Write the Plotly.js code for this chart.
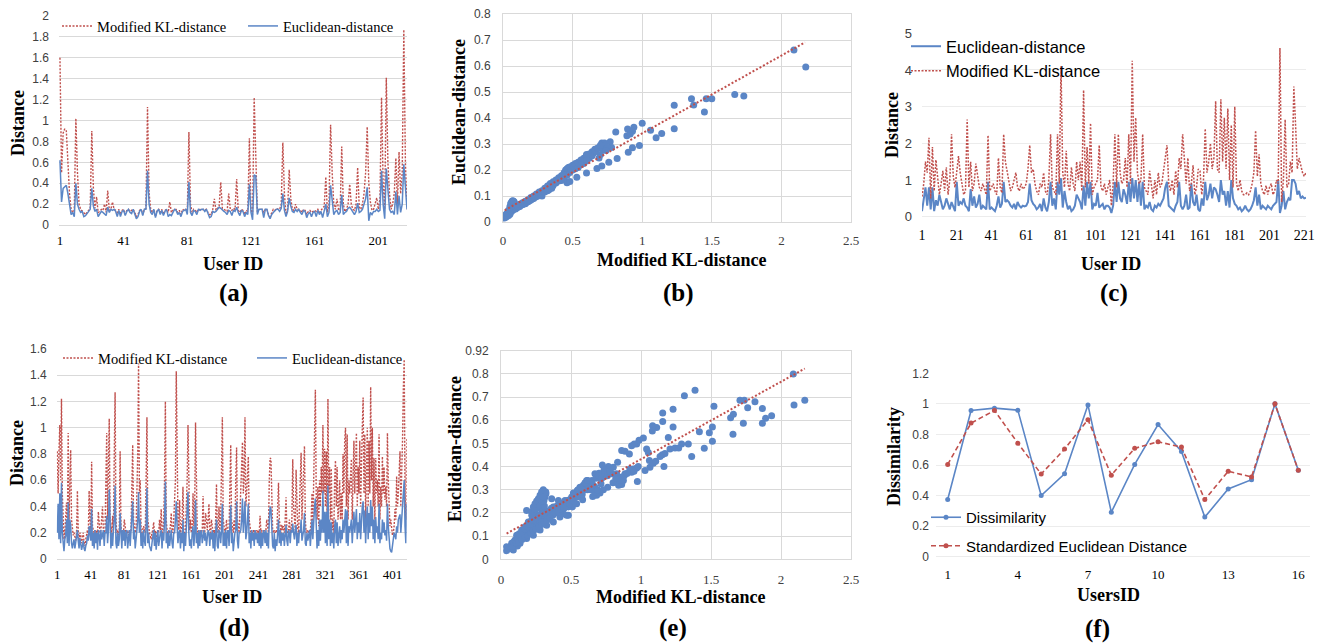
<!DOCTYPE html>
<html><head><meta charset="utf-8">
<script src="https://cdn.plot.ly/plotly-3.0.1.min.js"></script>
<style>html,body{margin:0;padding:0;background:#fff}#chart{width:1321px;height:643px}</style>
</head><body><div id="chart"></div>
<script>
// ---------- Panel (a) ----------
const A_KL = [1.6,0.5,0.88,0.92,0.9,0.55,0.3,0.15,0.12,0.14,
1.02,0.5,0.2,0.15,0.13,0.12,0.1,0.12,0.14,0.16,
0.9,0.35,0.16,0.27,0.12,0.13,0.15,0.14,0.2,0.12,
0.33,0.14,0.15,0.22,0.15,0.14,0.12,0.15,0.1,0.14,
0.15,0.1,0.14,0.15,0.13,0.14,0.15,0.12,0.08,0.1,
0.14,0.15,0.1,0.15,0.16,1.13,0.3,0.15,0.12,0.15,
0.08,0.14,0.15,0.12,0.15,0.1,0.14,0.15,0.12,0.22,
0.12,0.14,0.15,0.15,0.12,0.14,0.1,0.15,0.14,0.15,
0.13,0.89,0.2,0.12,0.15,0.14,0.12,0.15,0.15,0.14,
0.15,0.14,0.15,0.12,0.1,0.1,0.15,0.25,0.14,0.16,
0.18,0.41,0.16,0.15,0.14,0.13,0.3,0.15,0.14,0.16,
0.15,0.44,0.14,0.12,0.15,0.14,0.1,0.14,0.13,0.83,
0.15,0.1,1.22,0.6,0.12,0.15,0.15,0.15,0.12,0.15,
0.15,0.1,0.08,0.12,0.15,0.14,0.16,0.15,0.15,0.2,
0.79,0.3,0.1,0.15,0.53,0.25,0.15,0.14,0.2,0.15,
0.15,0.14,0.12,0.15,0.14,0.1,0.13,0.14,0.12,0.13,
0.14,0.13,0.15,0.12,0.14,0.15,0.18,0.46,0.12,0.2,
0.96,0.5,0.2,0.15,0.25,0.15,0.14,0.75,0.2,0.13,
0.15,0.2,0.39,0.2,0.15,0.14,0.2,0.55,0.17,0.15,
0.2,0.3,0.5,0.94,0.4,0.22,0.14,0.15,0.2,0.26,
0.15,0.25,1.22,0.4,0.15,1.41,0.6,0.3,0.15,0.2,
0.3,0.64,0.2,0.7,0.3,0.5,1.87,0.6,0.15];
const A_EU = [0.62,0.22,0.35,0.37,0.38,0.3,0.2,0.1,0.12,0.08,
0.40,0.2,0.15,0.12,0.13,0.08,0.09,0.11,0.13,0.15,
0.35,0.18,0.13,0.15,0.08,0.11,0.13,0.12,0.1,0.09,
0.17,0.12,0.15,0.14,0.15,0.13,0.08,0.14,0.08,0.13,
0.14,0.09,0.13,0.15,0.12,0.11,0.15,0.1,0.06,0.08,
0.13,0.15,0.09,0.15,0.15,0.52,0.2,0.12,0.1,0.15,
0.07,0.13,0.15,0.1,0.14,0.09,0.13,0.15,0.08,0.1,
0.09,0.12,0.15,0.14,0.1,0.12,0.08,0.13,0.14,0.15,
0.1,0.41,0.12,0.09,0.14,0.13,0.1,0.15,0.14,0.15,
0.15,0.13,0.15,0.11,0.07,0.08,0.13,0.12,0.13,0.15,
0.17,0.16,0.14,0.13,0.12,0.1,0.14,0.13,0.09,0.14,
0.13,0.17,0.12,0.09,0.14,0.13,0.08,0.12,0.1,0.39,
0.12,0.05,0.48,0.47,0.1,0.15,0.15,0.15,0.07,0.15,
0.15,0.09,0.06,0.1,0.12,0.14,0.15,0.15,0.13,0.16,
0.3,0.14,0.08,0.13,0.26,0.18,0.13,0.12,0.15,0.13,
0.15,0.12,0.1,0.14,0.13,0.07,0.11,0.12,0.08,0.12,
0.13,0.08,0.14,0.1,0.13,0.07,0.14,0.2,0.08,0.12,
0.38,0.22,0.1,0.13,0.14,0.1,0.12,0.29,0.1,0.12,
0.13,0.16,0.17,0.15,0.12,0.1,0.13,0.21,0.12,0.13,
0.15,0.2,0.25,0.36,0.04,0.12,0.1,0.13,0.13,0.15,
0.13,0.14,0.52,0.2,0.06,0.54,0.3,0.15,0.12,0.13,
0.1,0.32,0.1,0.28,0.12,0.2,0.58,0.3,0.15];

// ---------- Panel (b) ----------
const B_X = [0.01,0.015,0.02,0.02,0.03,0.03,0.04,0.04,0.05,0.05,0.055,0.06,0.06,0.065,0.07,0.07,0.075,0.08,0.08,0.09,0.09,0.1,0.1,0.11,0.12,0.12,0.13,0.14,0.14,0.15,0.16,0.16,0.17,0.18,0.18,0.19,0.2,0.2,0.21,0.22,0.22,0.23,0.24,0.24,0.25,0.26,0.26,0.27,0.28,0.28,0.29,0.3,0.3,0.31,0.32,0.32,0.33,0.33,0.34,0.34,0.35,0.36,0.36,0.37,0.38,0.38,0.39,0.4,0.4,0.41,0.42,0.42,0.43,0.44,0.44,0.45,0.45,0.46,0.46,0.47,0.47,0.48,0.48,0.49,0.5,0.5,0.51,0.52,0.52,0.53,0.54,0.54,0.55,0.56,0.56,0.57,0.58,0.58,0.59,0.6,0.6,0.61,0.62,0.62,0.63,0.64,0.64,0.65,0.66,0.66,0.67,0.68,0.7,0.72,0.6,
0.81,0.895,1.0,0.98,0.93,0.9,1.06,1.1,1.14,1.23,1.23,1.354,1.37,1.447,1.46,1.5,1.665,1.73,2.09,2.175,0.82,0.76,0.71,0.675,0.6,0.53,0.46,0.48,0.71,0.73,0.77,0.78,0.75,0.69,0.6,0.94,0.93,0.89,0.914,0.7,0.74,0.33,0.35,0.42,0.44];
const B_Y = [0.015,0.02,0.018,0.028,0.022,0.035,0.025,0.045,0.03,0.06,0.07,0.04,0.075,0.08,0.045,0.082,0.08,0.05,0.078,0.05,0.06,0.055,0.065,0.058,0.06,0.068,0.065,0.066,0.074,0.07,0.07,0.08,0.076,0.078,0.086,0.082,0.085,0.094,0.088,0.09,0.1,0.095,0.098,0.108,0.1,0.105,0.115,0.11,0.1,0.12,0.118,0.115,0.13,0.125,0.12,0.138,0.125,0.14,0.13,0.148,0.14,0.14,0.155,0.15,0.15,0.162,0.16,0.158,0.17,0.168,0.165,0.178,0.18,0.17,0.19,0.19,0.2,0.18,0.205,0.2,0.21,0.19,0.212,0.2,0.2,0.218,0.21,0.205,0.225,0.215,0.21,0.23,0.225,0.22,0.238,0.23,0.225,0.245,0.24,0.235,0.255,0.25,0.245,0.262,0.255,0.255,0.27,0.265,0.27,0.28,0.275,0.285,0.26,0.28,0.24,
0.346,0.358,0.38,0.294,0.286,0.268,0.353,0.324,0.34,0.449,0.359,0.474,0.45,0.423,0.474,0.474,0.49,0.485,0.662,0.596,0.244,0.23,0.215,0.206,0.188,0.172,0.151,0.156,0.304,0.304,0.309,0.287,0.287,0.246,0.26,0.364,0.349,0.332,0.338,0.295,0.275,0.125,0.13,0.16,0.18];
const B_TREND_X = [0.012, 2.17];
const B_TREND_Y = [0.045, 0.691];

// ---------- Panel (c) ----------
const C_EU = [0.15,0.5,0.8,0.3,0.8,0.2,0.8,0.15,0.45,0.3,
0.6,0.4,0.2,0.3,0.5,0.35,0.2,0.4,0.25,0.15,
0.95,0.3,0.4,0.35,0.5,0.3,0.25,0.15,0.75,0.3,
0.55,0.25,0.35,0.6,0.2,0.3,0.25,0.2,0.95,0.2,
0.25,0.2,0.15,0.3,0.55,0.25,0.35,0.95,0.4,0.45,
0.4,0.3,0.25,0.35,0.2,0.4,0.3,0.25,0.3,0.28,
0.3,0.4,0.9,0.45,0.35,0.3,0.2,0.25,0.35,0.15,
0.5,0.25,0.15,0.4,0.95,0.3,0.5,0.2,0.95,0.6,
1.05,0.25,0.7,0.4,0.2,0.3,0.15,0.2,0.3,0.6,
0.5,0.4,0.2,0.85,0.3,0.95,0.5,0.95,0.2,0.35,
0.3,0.65,0.25,0.3,0.35,0.2,0.3,0.3,0.25,0.1,
0.3,0.95,0.4,0.95,0.5,0.4,0.75,0.6,0.35,0.95,
0.4,1.05,0.5,1.0,0.4,0.95,0.3,0.95,0.2,0.3,
0.25,0.4,0.2,0.15,0.3,0.25,0.35,0.3,0.4,0.5,
0.8,0.95,0.3,0.25,0.2,0.15,0.3,0.4,0.95,0.3,
0.2,0.3,0.6,0.2,0.25,0.9,0.4,0.3,0.6,0.2,
0.15,0.5,0.3,0.95,0.45,0.6,0.9,0.5,0.8,0.75,
0.6,0.4,1.0,0.6,0.7,0.3,0.7,0.25,1.0,0.5,
0.35,0.3,0.2,0.25,0.15,0.2,0.3,0.2,0.15,0.2,
0.3,0.45,0.8,0.3,0.6,0.2,0.3,0.25,0.2,0.3,
0.25,0.2,0.3,0.35,0.4,1.0,0.1,0.3,0.7,0.2,
0.4,0.5,0.45,1.0,1.0,0.9,0.6,0.7,0.5,0.55,
0.5,0.52];
const C_KL = [0.55,0.9,1.5,1.2,2.15,0.5,1.9,0.7,1.55,1.0,
0.6,0.9,1.25,0.7,1.35,0.6,1.0,2.25,1.1,0.8,
1.3,1.65,1.2,0.9,0.6,0.7,2.65,0.8,1.5,0.7,
0.9,1.45,1.1,0.8,0.7,0.9,0.75,0.6,2.22,0.7,
0.8,0.9,0.7,0.6,1.6,0.8,0.65,2.25,1.5,1.2,
0.9,0.7,0.8,1.0,1.2,0.8,0.7,0.9,0.75,0.8,
0.9,1.3,1.95,1.2,1.3,0.9,0.7,0.6,0.9,0.8,
1.2,0.7,0.6,1.0,2.25,0.8,0.7,0.6,2.25,0.9,
4.1,1.2,0.8,1.8,0.9,0.7,1.35,0.9,0.7,1.5,
1.0,1.5,0.7,3.45,0.8,1.9,0.9,2.55,0.6,0.8,
0.9,1.0,1.95,0.8,0.7,0.9,0.6,0.8,1.0,0.3,
0.9,2.25,0.8,2.25,1.2,0.9,1.0,1.6,0.8,2.25,
0.9,4.25,1.5,2.7,1.2,0.9,1.0,2.25,0.8,0.7,
0.6,1.25,0.8,0.5,1.0,0.6,1.2,0.8,0.9,1.3,
1.6,1.95,0.9,0.7,1.0,0.6,1.25,0.8,1.6,1.3,
2.25,1.6,0.9,1.6,0.7,0.9,1.4,0.6,0.8,1.3,
1.25,0.6,1.0,2.4,1.2,1.5,2.0,1.3,1.6,3.15,
1.3,1.2,3.2,1.5,2.7,1.3,2.95,1.0,2.5,0.8,
3.0,0.9,0.7,1.0,0.7,0.6,0.6,0.65,0.6,0.7,
0.9,1.2,2.35,1.1,1.7,0.9,0.7,0.6,0.85,0.6,
0.8,0.9,0.6,0.7,1.0,0.9,4.6,0.4,1.0,2.65,
0.8,0.9,1.5,1.2,3.55,2.5,1.3,1.6,1.4,1.2,
1.1,1.2];

// ---------- Panel (d) ----------
const D_KL = [0.82,0.5,0.82,1.02,0.6,1.22,0.5,0.2,0.15,0.2,0.3,0.43,0.2,0.96,0.3,0.5,0.83,0.3,0.2,0.18,
0.2,0.15,0.14,0.2,0.52,0.22,0.14,0.2,0.18,0.12,0.15,0.2,0.12,0.1,0.15,0.2,0.22,0.18,0.52,0.3,
0.2,0.74,0.25,0.22,0.2,0.22,0.2,0.22,0.2,0.36,0.22,0.2,0.22,0.3,0.4,0.22,0.2,0.22,0.5,0.96,
0.3,0.6,1.07,0.3,0.22,0.2,0.33,0.22,0.8,1.27,0.3,0.2,0.22,0.18,0.22,0.82,0.25,0.2,0.22,0.2,
0.3,0.22,0.2,0.22,0.2,0.18,0.22,0.2,0.22,0.6,0.87,0.3,0.22,0.2,0.22,0.5,0.8,1.49,0.5,0.6,
0.22,0.2,0.22,0.25,0.22,0.2,0.6,1.08,0.3,0.22,0.2,0.18,0.15,0.2,0.22,0.28,0.2,0.22,0.15,0.2,
0.22,0.2,0.3,0.22,0.38,0.22,0.2,0.3,0.6,1.2,0.3,0.22,0.2,0.22,0.2,0.25,0.35,0.22,0.2,0.3,
0.45,0.6,1.43,0.5,0.3,0.22,0.45,0.2,0.22,0.3,0.55,0.22,0.2,0.22,0.4,0.6,1.02,0.4,0.22,0.3,
0.2,0.22,0.5,0.25,0.4,1.04,0.3,0.22,0.2,0.22,0.2,0.22,0.2,0.22,0.48,0.22,0.2,0.35,0.3,0.22,
0.3,0.42,0.22,0.2,0.3,0.22,0.2,0.22,0.18,0.3,0.57,0.22,0.2,0.4,0.22,0.3,0.6,1.08,0.3,0.22,
0.2,0.22,0.3,0.22,0.2,0.22,0.5,0.87,0.3,0.22,0.2,0.3,0.22,0.6,0.85,0.3,0.22,0.2,0.35,0.6,
0.75,0.89,0.5,0.6,1.08,0.4,0.5,0.6,0.78,0.3,0.22,0.2,0.22,0.2,0.22,0.2,0.22,0.2,0.22,0.2,
0.22,0.2,0.33,0.2,0.22,0.15,0.2,0.22,0.2,0.22,0.3,0.22,0.2,0.6,0.77,0.76,0.3,0.22,0.2,0.22,
0.2,0.22,0.2,0.35,0.58,0.3,0.22,0.2,0.26,0.22,0.25,0.2,0.3,0.47,0.22,0.2,0.22,0.3,0.2,0.22,
0.3,0.76,0.4,0.3,0.22,0.68,0.3,0.22,0.2,0.4,0.6,0.81,0.3,0.5,0.6,0.86,0.3,0.2,0.22,0.2,
0.22,0.2,0.22,0.3,0.5,0.22,0.6,0.9,1.29,0.5,0.3,0.55,0.25,0.6,0.4,0.7,0.5,1.02,0.5,0.84,
0.4,0.82,0.3,1.22,0.5,0.7,0.3,0.69,0.22,0.3,0.2,0.6,0.75,0.4,0.7,0.3,0.4,0.6,0.3,0.5,
0.3,0.8,0.5,0.9,1.0,0.4,0.95,0.3,0.6,0.5,0.7,0.76,0.3,0.6,0.9,0.5,0.8,0.96,0.4,0.7,
0.5,0.9,0.4,0.8,1.0,1.23,0.5,0.95,0.3,0.7,1.0,0.4,0.9,0.5,1.31,0.6,1.0,0.4,0.77,0.3,
0.77,0.5,0.6,0.4,0.95,0.3,0.55,0.4,0.78,0.5,0.7,0.45,0.55,0.4,0.96,0.6,0.3,0.25,0.3,0.2,
0.18,0.2,0.25,0.38,0.3,0.63,0.4,0.5,0.7,0.82,0.4,0.6,0.9,1.3,1.52,0.5,0.3,0.92];
const D_EU = [0.2,0.42,0.15,0.5,0.12,0.58,0.2,0.08,0.06,0.15,0.18,0.3,0.12,0.43,0.1,0.3,0.25,0.12,0.08,0.12,
0.15,0.08,0.12,0.18,0.22,0.14,0.08,0.16,0.12,0.07,0.1,0.14,0.08,0.06,0.1,0.12,0.18,0.14,0.25,0.2,
0.14,0.38,0.1,0.2,0.08,0.22,0.12,0.2,0.07,0.22,0.18,0.1,0.22,0.15,0.2,0.22,0.1,0.2,0.2,0.33,
0.12,0.22,0.53,0.15,0.08,0.2,0.1,0.22,0.3,0.56,0.12,0.08,0.2,0.1,0.15,0.35,0.12,0.08,0.22,0.14,
0.22,0.1,0.2,0.22,0.08,0.14,0.22,0.1,0.2,0.28,0.44,0.15,0.22,0.08,0.2,0.22,0.3,0.51,0.2,0.3,
0.1,0.2,0.08,0.22,0.14,0.1,0.25,0.54,0.12,0.2,0.1,0.08,0.06,0.12,0.2,0.22,0.1,0.2,0.07,0.15,
0.22,0.1,0.18,0.2,0.22,0.08,0.2,0.14,0.3,0.59,0.12,0.2,0.08,0.22,0.1,0.2,0.22,0.12,0.08,0.2,
0.2,0.3,0.44,0.25,0.12,0.2,0.22,0.08,0.2,0.12,0.3,0.06,0.2,0.1,0.22,0.3,0.51,0.2,0.1,0.15,
0.08,0.2,0.25,0.1,0.2,0.45,0.12,0.2,0.08,0.22,0.1,0.2,0.22,0.12,0.2,0.22,0.14,0.2,0.1,0.2,
0.22,0.2,0.1,0.2,0.15,0.22,0.08,0.2,0.06,0.2,0.3,0.1,0.08,0.22,0.2,0.12,0.22,0.42,0.1,0.2,
0.1,0.22,0.08,0.2,0.22,0.1,0.22,0.41,0.12,0.2,0.06,0.14,0.2,0.22,0.44,0.14,0.08,0.2,0.2,0.22,
0.3,0.46,0.2,0.3,0.44,0.15,0.2,0.3,0.42,0.12,0.2,0.08,0.22,0.14,0.2,0.1,0.22,0.15,0.2,0.12,
0.2,0.1,0.22,0.08,0.2,0.1,0.22,0.2,0.12,0.22,0.1,0.2,0.08,0.3,0.4,0.38,0.15,0.1,0.08,0.2,
0.06,0.15,0.1,0.2,0.3,0.12,0.22,0.1,0.2,0.14,0.2,0.1,0.2,0.26,0.14,0.1,0.22,0.2,0.12,0.22,
0.2,0.27,0.2,0.15,0.22,0.26,0.1,0.2,0.12,0.22,0.2,0.3,0.14,0.2,0.22,0.35,0.12,0.1,0.2,0.14,
0.2,0.22,0.1,0.2,0.3,0.15,0.3,0.4,0.46,0.2,0.08,0.22,0.1,0.3,0.14,0.3,0.2,0.52,0.2,0.36,
0.12,0.36,0.1,0.56,0.15,0.3,0.1,0.28,0.12,0.2,0.08,0.25,0.3,0.12,0.28,0.1,0.2,0.25,0.12,0.22,
0.15,0.3,0.2,0.35,0.38,0.12,0.37,0.1,0.25,0.2,0.28,0.3,0.12,0.25,0.36,0.2,0.3,0.38,0.15,0.28,
0.2,0.35,0.15,0.3,0.4,0.44,0.2,0.37,0.12,0.3,0.4,0.15,0.35,0.2,0.45,0.25,0.4,0.15,0.3,0.12,
0.32,0.2,0.25,0.15,0.42,0.12,0.2,0.15,0.3,0.2,0.28,0.18,0.22,0.14,0.42,0.25,0.12,0.08,0.06,0.05,
0.1,0.15,0.2,0.18,0.15,0.25,0.2,0.3,0.32,0.34,0.2,0.3,0.38,0.45,0.6,0.25,0.12,0.42];

// ---------- Panel (e) ----------
const E_X = [2.088,2.17,2.093,1.386,1.31,1.155,1.229,1.521,1.707,1.738,1.814,1.762,1.867,1.64,1.66,1.89,1.933,1.731,1.867,1.657,1.51,1.417,1.488,1.51,1.452,1.338,1.362,1.29,1.229,1.207,1.243,1.269,1.195,1.152,1.164,1.171,1.136,1.112,1.083,1.081,1.155,1.017,0.986,0.969,0.933,0.952,0.917,0.862,0.886,1.04,1.052,1.06,1.029,1.064,1.088,1.105,0.969,0.945,0.974,0.933,0.886,0.85,0.874,0.862,0.84,0.826,0.833,0.802,0.767,0.724,0.736,0.7,0.671,0.79,0.762,0.731,0.707,0.683,0.655,0.714,0.671,0.617,0.583,0.631,0.612,0.588,0.564,0.545,0.517,0.505,0.54,0.51,0.481,0.481,0.445,0.457,0.421,0.41,0.362,0.398,0.374,0.338,0.302,0.279,0.255,0.231,0.207,0.171,0.136,0.1,0.064,0.04,0.088,0.183,
0.302,0.29,0.279,0.267,0.255,0.243,0.231,0.219,0.321,0.314,0.307,
0.04,0.112,0.16,0.183,0.207,0.231,0.255,0.279,0.326,0.374,0.421,0.469,0.493,0.529,0.552,0.576,0.136,0.112,0.148,0.171,0.195,0.219,0.243,0.183,0.231,0.279,0.326,0.374,0.421,0.469,0.117,0.076,0.1,
0.08,0.09,0.11,0.12,0.13,0.14,0.15,0.16,0.17,0.18,0.19,0.2,0.21,0.22,0.23,0.24,0.25,0.26,0.27,0.28,0.29,0.3,0.31,0.32,0.33,0.34,0.35,0.36,0.37,0.38,0.39,0.4,0.41,0.42,0.43,0.44,0.45,0.46,0.47,0.48,0.49,0.5,0.52,0.53,0.55,0.56,0.58,0.6,0.62,0.63,0.65,0.66,0.68,0.7,0.72,0.74,0.76,0.78,0.8,0.82,0.84,0.86,0.88,0.9,0.92,0.95,0.98,0.6,0.58,0.55,0.64,0.67,0.69,0.62,
0.13,0.15,0.17,0.19,0.21,0.23,0.25,0.27,0.29,0.26,0.24,0.22,0.28,0.3,0.31,0.3,0.28,0.29,0.32,0.3];
const E_Y = [0.8,0.686,0.666,0.729,0.706,0.631,0.647,0.66,0.686,0.686,0.68,0.654,0.651,0.611,0.626,0.609,0.619,0.587,0.587,0.539,0.571,0.55,0.546,0.509,0.479,0.497,0.443,0.497,0.571,0.476,0.48,0.48,0.526,0.451,0.4,0.457,0.443,0.569,0.576,0.554,0.594,0.523,0.514,0.497,0.49,0.497,0.454,0.469,0.466,0.476,0.461,0.426,0.383,0.397,0.414,0.423,0.394,0.39,0.336,0.376,0.369,0.354,0.34,0.323,0.333,0.369,0.419,0.397,0.4,0.407,0.386,0.371,0.369,0.369,0.311,0.3,0.286,0.276,0.271,0.326,0.311,0.3,0.257,0.333,0.34,0.319,0.311,0.297,0.286,0.269,0.24,0.226,0.226,0.19,0.197,0.254,0.24,0.254,0.261,0.219,0.204,0.19,0.176,0.154,0.14,0.126,0.111,0.097,0.083,0.061,0.047,0.037,0.04,0.211,
0.3,0.29,0.276,0.261,0.251,0.24,0.226,0.204,0.283,0.269,0.254,
0.054,0.083,0.104,0.126,0.14,0.154,0.169,0.183,0.204,0.226,0.211,0.24,0.254,0.276,0.283,0.29,0.069,0.104,0.126,0.14,0.161,0.169,0.183,0.09,0.104,0.126,0.147,0.161,0.183,0.19,0.057,0.069,0.083,
0.055,0.075,0.07,0.09,0.075,0.1,0.085,0.115,0.1,0.12,0.105,0.13,0.115,0.145,0.125,0.155,0.13,0.16,0.14,0.17,0.15,0.19,0.16,0.195,0.17,0.21,0.18,0.22,0.19,0.225,0.2,0.23,0.205,0.235,0.215,0.24,0.22,0.25,0.23,0.255,0.24,0.26,0.25,0.28,0.27,0.29,0.28,0.3,0.31,0.33,0.34,0.32,0.35,0.36,0.35,0.37,0.36,0.38,0.33,0.35,0.32,0.34,0.36,0.37,0.39,0.38,0.4,0.33,0.3,0.3,0.3,0.29,0.3,0.34,
0.11,0.12,0.13,0.14,0.15,0.17,0.18,0.19,0.2,0.22,0.21,0.19,0.23,0.21,0.23,0.25,0.26,0.28,0.29,0.27];
const E_TREND_X = [0.04, 2.17];
const E_TREND_Y = [0.111, 0.823];
const E_YTICKS = [0,0.1,0.2,0.3,0.4,0.5,0.6,0.7,0.8,0.9];
const E_YTICKTEXT = ['0','0.1','0.2','0.3','0.4','0.5','0.6','0.7','0.8','0.92'];

// ---------- Panel (f) ----------
const F_USERS = [1,2,3,4,5,6,7,8,9,10,11,12,13,14,15,16];
const F_DISSIM = [0.374,0.957,0.972,0.959,0.4,0.543,0.993,0.291,0.604,0.865,0.689,0.259,0.443,0.504,1.0,0.565];
const F_STD = [0.604,0.874,0.957,0.743,0.541,0.704,0.896,0.533,0.709,0.752,0.717,0.374,0.559,0.522,1.0,0.565];

// ---------- styling ----------
const W = 1321, H = 643;
const fx = v => v / W, fy = v => 1 - v / H;
const BLUE = '#5b86c6', RED = '#c0504d', GRID = '#d9d9d9';
const SERIF = 'Liberation Serif, Times New Roman, serif';
const SANS = 'Liberation Sans, Arial, sans-serif';
const ids = arr => arr.map((_, i) => i + 1);

const traces = [
  {x: ids(A_KL), y: A_KL, name: 'Modified KL-distance', type: 'scatter', mode: 'lines', xaxis: 'x', yaxis: 'y', legend: 'legend',
   line: {color: RED, width: 1.4, dash: '2px,1.5px'}},
  {x: ids(A_EU), y: A_EU, name: 'Euclidean-distance', type: 'scatter', mode: 'lines', xaxis: 'x', yaxis: 'y', legend: 'legend',
   line: {color: BLUE, width: 1.5}},
  {x: B_X, y: B_Y, type: 'scatter', mode: 'markers', xaxis: 'x2', yaxis: 'y2', showlegend: false,
   marker: {color: BLUE, size: 7}},
  {x: B_TREND_X, y: B_TREND_Y, type: 'scatter', mode: 'lines', xaxis: 'x2', yaxis: 'y2', showlegend: false,
   line: {color: RED, width: 2, dash: '2px,2px'}},
  {x: ids(C_EU), y: C_EU, name: 'Euclidean-distance', type: 'scatter', mode: 'lines', xaxis: 'x3', yaxis: 'y3', legend: 'legend2',
   line: {color: BLUE, width: 2}},
  {x: ids(C_KL), y: C_KL, name: 'Modified KL-distance', type: 'scatter', mode: 'lines', xaxis: 'x3', yaxis: 'y3', legend: 'legend2',
   line: {color: RED, width: 1.5, dash: '2px,1.5px'}},
  {x: ids(D_KL), y: D_KL, name: 'Modified KL-distance', type: 'scatter', mode: 'lines', xaxis: 'x4', yaxis: 'y4', legend: 'legend3',
   line: {color: RED, width: 1.4, dash: '2px,1.5px'}},
  {x: ids(D_EU), y: D_EU, name: 'Euclidean-distance', type: 'scatter', mode: 'lines', xaxis: 'x4', yaxis: 'y4', legend: 'legend3',
   line: {color: BLUE, width: 1.5}},
  {x: E_X, y: E_Y, type: 'scatter', mode: 'markers', xaxis: 'x5', yaxis: 'y5', showlegend: false,
   marker: {color: BLUE, size: 7}},
  {x: E_TREND_X, y: E_TREND_Y, type: 'scatter', mode: 'lines', xaxis: 'x5', yaxis: 'y5', showlegend: false,
   line: {color: RED, width: 2, dash: '2px,2px'}},
  {x: F_USERS, y: F_DISSIM, name: 'Dissimilarity', type: 'scatter', mode: 'lines+markers', xaxis: 'x6', yaxis: 'y6', legend: 'legend4', legendgroup: 'f1',
   line: {color: BLUE, width: 1.6}, marker: {color: BLUE, size: 5}},
  {x: F_USERS, y: F_STD, name: 'Standardized Euclidean Distance', type: 'scatter', mode: 'lines+markers', xaxis: 'x6', yaxis: 'y6', legend: 'legend4', legendgroup: 'f2',
   line: {color: RED, width: 1.6, dash: '5px,3px'}, marker: {color: RED, size: 5}}
];

const xTickFont = {family: SERIF, size: 13, color: '#000'};
const yTickFont = {family: SANS, size: 12, color: '#404040'};
function xAx(dom, range, extra) {
  return Object.assign({domain: dom, range: range, showgrid: false, zeroline: false, showline: false,
    ticks: '', tickfont: xTickFont, ticklabelstandoff: 6, fixedrange: true}, extra);
}
function yAx(dom, range, extra) {
  return Object.assign({domain: dom, range: range, showgrid: true, gridcolor: GRID, gridwidth: 1,
    zeroline: true, zerolinecolor: GRID, zerolinewidth: 1, showline: false,
    ticks: '', tickfont: yTickFont, ticklabelstandoff: 9, fixedrange: true}, extra);
}

const titleFont = {family: SERIF, size: 18, color: '#000', weight: 'bold'};
const labelFont = {family: SERIF, size: 25, color: '#000', weight: 'bold'};
function ann(text, x, y, font, angle) {
  return {text: text, xref: 'paper', yref: 'paper', x: fx(x), y: fy(y), xanchor: 'center', yanchor: 'middle',
    showarrow: false, font: font, textangle: angle || 0};
}

const layout = {
  width: W, height: H, margin: {l: 0, r: 0, t: 0, b: 0}, paper_bgcolor: '#fff', plot_bgcolor: 'rgba(0,0,0,0)',
  showlegend: true,
  xaxis: xAx([fx(59), fx(407)], [0.4, 219], {anchor: 'y', tick0: 1, dtick: 40}),
  yaxis: yAx([fy(225), fy(16)], [0, 2], {anchor: 'x', dtick: 0.2}),
  xaxis2: xAx([fx(503), fx(851)], [0, 2.5], {anchor: 'y2', dtick: 0.5, showgrid: true, gridcolor: GRID,
    showline: true, mirror: true, linecolor: GRID, tickfont: {family: SERIF, size: 13, color: '#404040'}}),
  yaxis2: yAx([fy(222), fy(14)], [0, 0.8], {anchor: 'x2', dtick: 0.1, showline: true, mirror: true, linecolor: GRID}),
  xaxis3: xAx([fx(922), fx(1306)], [1, 222], {anchor: 'y3', tick0: 1, dtick: 20, tickfont: {family: SERIF, size: 14, color: '#000'}, ticklabelstandoff: 8}),
  yaxis3: yAx([fy(216.7), fy(33.3)], [0, 5], {anchor: 'x3', dtick: 1, gridcolor: '#ececec', zerolinecolor: '#ececec', tickfont: {family: SANS, size: 13, color: '#404040'}}),
  xaxis4: xAx([fx(56.7), fx(406.7)], [0.3, 418], {anchor: 'y4', tick0: 1, dtick: 40}),
  yaxis4: yAx([fy(559), fy(349)], [0, 1.6], {anchor: 'x4', dtick: 0.2}),
  xaxis5: xAx([fx(501), fx(851)], [0, 2.5], {anchor: 'y5', dtick: 0.5, showgrid: true, gridcolor: GRID,
    showline: true, mirror: true, linecolor: GRID, tickfont: {family: SERIF, size: 13, color: '#404040'}, ticklabelstandoff: 8}),
  yaxis5: yAx([fy(559.3), fy(350.7)], [0, 0.9], {anchor: 'x5', tickmode: 'array', tickvals: E_YTICKS, ticktext: E_YTICKTEXT,
    showline: true, mirror: true, linecolor: GRID}),
  xaxis6: xAx([fx(936), fx(1310)], [0.5, 16.5], {anchor: 'y6', tick0: 1, dtick: 3, ticklabelstandoff: 8}),
  yaxis6: yAx([fy(556.7), fy(373.3)], [0, 1.2], {anchor: 'x6', dtick: 0.2, gridcolor: '#ececec', zerolinecolor: '#ececec', ticklabelstandoff: 6}),
  legend: {orientation: 'h', x: fx(57), y: fy(26), xanchor: 'left', yanchor: 'middle', bgcolor: 'rgba(0,0,0,0)',
    font: {family: SERIF, size: 14.5, color: '#000'}, entrywidth: 141, itemwidth: 30, borderwidth: 0},
  legend2: {orientation: 'v', x: fx(906), y: fy(29), xanchor: 'left', yanchor: 'top', bgcolor: 'rgba(0,0,0,0)',
    font: {family: SANS, size: 16.5, color: '#000'}, itemwidth: 30, tracegroupgap: 0},
  legend3: {orientation: 'h', x: fx(58), y: fy(358), xanchor: 'left', yanchor: 'middle', bgcolor: 'rgba(0,0,0,0)',
    font: {family: SERIF, size: 14.5, color: '#000'}, entrywidth: 149, itemwidth: 30},
  legend4: {orientation: 'v', x: fx(926), y: fy(501), xanchor: 'left', yanchor: 'top', bgcolor: 'rgba(0,0,0,0)',
    font: {family: SANS, size: 15, color: '#000'}, itemwidth: 30, tracegroupgap: 6},
  annotations: [
    ann('Distance', 18, 123, titleFont, -90),
    ann('User ID', 233, 264, titleFont),
    ann('(a)', 233, 293, labelFont),
    ann('Euclidean-distance', 459, 112, titleFont, -90),
    ann('Modified KL-distance', 682, 260, titleFont),
    ann('(b)', 678, 293, labelFont),
    ann('Distance', 892, 125, titleFont, -90),
    ann('User ID', 1111, 264, titleFont),
    ann('(c)', 1114, 293, labelFont),
    ann('Distance', 17, 453, titleFont, -90),
    ann('User ID', 232, 597, titleFont),
    ann('(d)', 235, 628, labelFont),
    ann('Euclidean-distance', 455, 449, titleFont, -90),
    ann('Modified KL-distance', 681, 597, titleFont),
    ann('(e)', 673, 628, labelFont),
    ann('Dissimilarity', 894, 456, titleFont, -90),
    ann('UsersID', 1108, 595, titleFont),
    ann('(f)', 1097, 629, labelFont)
  ]
};

Plotly.newPlot('chart', traces, layout, {displayModeBar: false, staticPlot: true});
</script>
</body></html>
